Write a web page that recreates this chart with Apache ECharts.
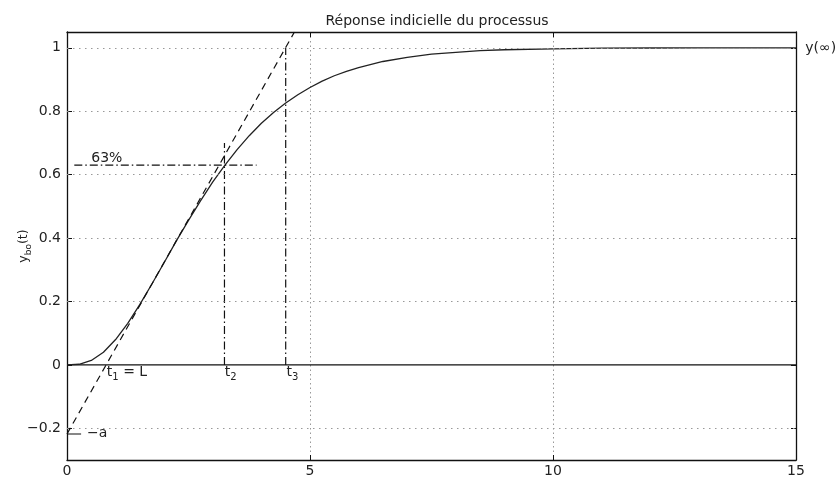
<!DOCTYPE html>
<html><head><meta charset="utf-8">
<script src="https://cdn.jsdelivr.net/npm/echarts@6/dist/echarts.min.js"></script>
<style>html,body{margin:0;padding:0;background:#fff}#c{width:836px;height:477px}</style>
</head><body><div id="c"></div>
<script>
// Step response values
const curveT = [0,0.25,0.5,0.75,1,1.25,1.5,1.75,2,2.25,2.5,2.75,3,3.25,3.5,3.75,4,4.25,4.5,4.75,5,5.25,5.5,5.75,6,6.5,7,7.5,8,8.5,9,10,11,12,13,14,15];
const curveY = [0,0.002,0.014,0.040,0.080,0.131,0.191,0.256,0.323,0.391,0.456,0.518,0.577,0.630,0.679,0.723,0.762,0.796,0.826,0.852,0.875,0.895,0.912,0.926,0.938,0.957,0.970,0.980,0.986,0.991,0.994,0.997,0.999,0.9995,0.9998,0.9999,1.0];
// Construction lines
const tangentT = [0, 4.68];
const tangentY = [-0.218, 1.05];
const zeroT = [0, 15];
const zeroY = [0, 0];
const level63T = [0.15, 3.9];
const level63Y = [0.63, 0.63];
const t2LineT = [3.24, 3.24];
const t2LineY = [0, 0.70];
const t3LineT = [4.5, 4.5];
const t3LineY = [0, 1.0];
const aMarkT = [0, 0.29];
const aMarkY = [-0.218, -0.218];
// Axes
const xTicks = [0, 5, 10, 15];
const yTicks = [-0.2, 0, 0.2, 0.4, 0.6, 0.8, 1];
const yGrid = [-0.2, 0.2, 0.4, 0.6, 0.8, 1];
// Annotations
const noteTexts = ['63%', 't{sub|1} = L', 't{sub|2}', 't{sub|3}', '−a', 'y(∞)'];
const noteT = [0.50, 0.82, 3.245, 4.515, 0.41, 15.19];
const noteY = [0.652, -0.025, -0.025, -0.025, -0.216, 0.998];

const zip = (a, b) => a.map((v, i) => [v, b[i]]);
const FONT = 'DejaVu Sans';
const lineS = (name, t, y, type, extra) => Object.assign({
  name, type: 'line', data: zip(t, y), symbol: 'none', silent: true,
  lineStyle: { color: '#111', width: 1.2, type: type }, z: 3
}, extra || {});

const chart = echarts.init(document.getElementById('c'), null, { renderer: 'canvas' });
const axisLine = { show: true, onZero: false, lineStyle: { color: '#111', width: 1.3 } };
const tick = { show: true, inside: true, length: 5, lineStyle: { color: '#111', width: 1 } };
chart.setOption({
  animation: false,
  backgroundColor: '#fff',
  title: {
    text: 'Réponse indicielle du processus', left: 432, top: 9, textAlign: 'center',
    textStyle: { fontFamily: FONT, fontSize: 14, fontWeight: 'normal', color: '#222' }
  },
  grid: { left: 67, top: 32, width: 729, height: 428, containLabel: false, outerBoundsMode: 'none' },
  xAxis: [
    { type: 'value', min: 0, max: 15, interval: 5, position: 'bottom',
      axisLine, axisTick: tick,
      axisLabel: { margin: 4, fontFamily: FONT, fontSize: 14, color: '#222' },
      splitLine: { show: true, lineStyle: { color: '#999', width: 1, type: [1.5, 3] } } },
    { type: 'value', min: 0, max: 15, interval: 5, position: 'top',
      axisLine, axisTick: tick, axisLabel: { show: false }, splitLine: { show: false } }
  ],
  yAxis: [
    { type: 'value', min: -0.3, max: 1.05, position: 'left',
      axisLine, axisTick: Object.assign({ customValues: yTicks }, tick),
      axisLabel: { customValues: yTicks, margin: 6, fontFamily: FONT, fontSize: 14, color: '#222',
        formatter: v => String(Math.round(v * 10) / 10).replace('-', '−') },
      splitLine: { show: false },
      name: 'y{sub|bo}(t)', nameLocation: 'middle', nameRotate: 90, nameGap: 34, nameMoveOverlap: false,
      nameTextStyle: { fontFamily: FONT, fontSize: 12.5, color: '#222',
        rich: { sub: { fontFamily: FONT, fontSize: 9, color: '#222', padding: [10, 0, 0, 0] } } } },
    { type: 'value', min: -0.3, max: 1.05, position: 'right',
      axisLine, axisTick: Object.assign({ customValues: yTicks }, tick),
      axisLabel: { show: false }, splitLine: { show: false } }
  ],
  series: [
    lineS('zero', zeroT, zeroY, 'solid', {
      z: 2,
      markLine: { silent: true, symbol: 'none', label: { show: false },
        lineStyle: { color: '#999', width: 1, type: [1.5, 4.5] },
        data: yGrid.map(v => ({ yAxis: v })) }
    }),
    lineS('curve', curveT, curveY, 'solid', { lineStyle: { color: '#222', width: 1.3 } }),
    lineS('tangent', tangentT, tangentY, [7, 5]),
    lineS('63', level63T, level63Y, [8, 3, 1.5, 3]),
    lineS('t2', t2LineT, t2LineY, [8, 3, 1.5, 3]),
    lineS('t3', t3LineT, t3LineY, [8, 3, 1.5, 3]),
    lineS('a', aMarkT, aMarkY, 'solid'),
    { name: 'notes', type: 'scatter', symbolSize: 0, clip: false, silent: true,
      itemStyle: { opacity: 1 },
      data: noteT.map((t, i) => ({ value: [t, noteY[i]], text: noteTexts[i] })),
      label: { show: true, position: 'right', distance: 0, fontFamily: FONT, fontSize: 14, color: '#222',
        formatter: p => p.data.text,
        rich: { sub: { fontFamily: FONT, fontSize: 10, color: '#222', padding: [10, 0, 0, 0] } } } }
  ]
});
</script></body></html>
